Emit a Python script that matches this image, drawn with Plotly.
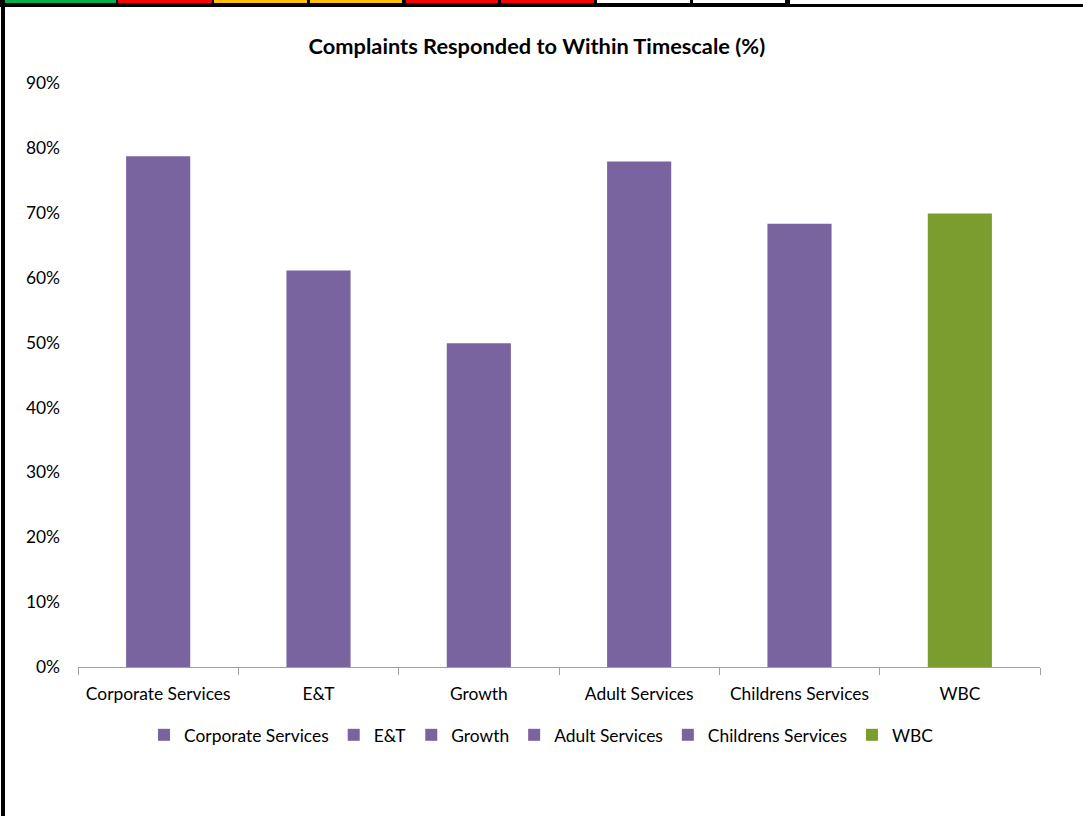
import plotly.graph_objects as go

categories = ["Corporate Services", "E&T", "Growth", "Adult Services", "Childrens Services", "WBC"]
values = [0.787, 0.611, 0.499, 0.779, 0.683, 0.699]
colors = ["#7964A0", "#7964A0", "#7964A0", "#7964A0", "#7964A0", "#7B9C2E"]
y_ticks = [0, 0.1, 0.2, 0.3, 0.4, 0.5, 0.6, 0.7, 0.8, 0.9]
y_tick_labels = ["0%", "10%", "20%", "30%", "40%", "50%", "60%", "70%", "80%", "90%"]
title = "Complaints Responded to Within Timescale (%)"

# spreadsheet cell strip above the chart (page-pixel decoration)
strip_cells = [(0, 116, "#00B050"), (117, 212, "#FF0000"), (213, 307, "#FFC000"),
               (309, 402, "#FFC000"), (405, 498, "#FF0000"), (500, 594, "#FF0000"),
               (596, 690, "#FFFFFF"), (692, 785, "#FFFFFF")]

FONT = "Lato, 'Open Sans', sans-serif"
W, H = 1083, 816
ML, MR, MT, MB = 78, 43, 83, 149

fig = go.Figure()
for c, v, col in zip(categories, values, colors):
    fig.add_trace(go.Bar(x=[c], y=[v], name=c, marker=dict(color=col, line=dict(width=0)),
                         width=0.4))

shapes = []

def pr(x0, y0, x1, y1, color):
    pw = W - ML - MR
    ph = H - MT - MB
    shapes.append(dict(type="rect", xref="paper", yref="paper",
                       x0=(x0 - ML) / pw, x1=(x1 - ML) / pw,
                       y0=(H - MB - y1) / ph, y1=(H - MB - y0) / ph,
                       fillcolor=color, line=dict(width=0), layer="above"))

pr(0, 0, 790, 4, "#000000")
for x0, x1, col in strip_cells:
    pr(x0 + 1, 0, x1, 3, col)
pr(0, 4, W, 7, "#000000")
pr(1, 0, 5, H, "#000000")

fig.update_layout(
    width=W, height=H,
    paper_bgcolor="white", plot_bgcolor="white",
    margin=dict(l=ML, r=MR, t=MT, b=MB),
    barmode="overlay",
    title=dict(text="<b>" + title + "</b>", x=0.477, xref="paper", y=1 - 46 / H, yanchor="middle",
               font=dict(family=FONT, size=21.8, color="#000000")),
    font=dict(family=FONT, size=17.4, color="#000000"),
    xaxis=dict(type="category", categoryorder="array", categoryarray=categories,
               showline=True, linecolor="#A0A0A0", linewidth=1,
               ticks="outside", tickson="boundaries", ticklen=7, tickcolor="#A0A0A0",
               showgrid=False, tickfont=dict(size=17.4), ticklabelstandoff=11),
    yaxis=dict(range=[0, 0.9], tickvals=y_ticks, ticktext=y_tick_labels,
               showgrid=False, zeroline=False, showline=False, ticks="",
               ticklabelstandoff=17, tickfont=dict(size=17.4)),
    legend=dict(orientation="h", x=0.5, xref="container", xanchor="center",
                y=1 - 735 / H, yref="container", yanchor="middle",
                font=dict(size=17.4), itemwidth=30, traceorder="normal"),
    shapes=shapes,
    showlegend=True,
)

fig.write_html("out.html", config={"displayModeBar": False},
               post_script="document.body.style.margin='0';document.body.style.padding='0';")
